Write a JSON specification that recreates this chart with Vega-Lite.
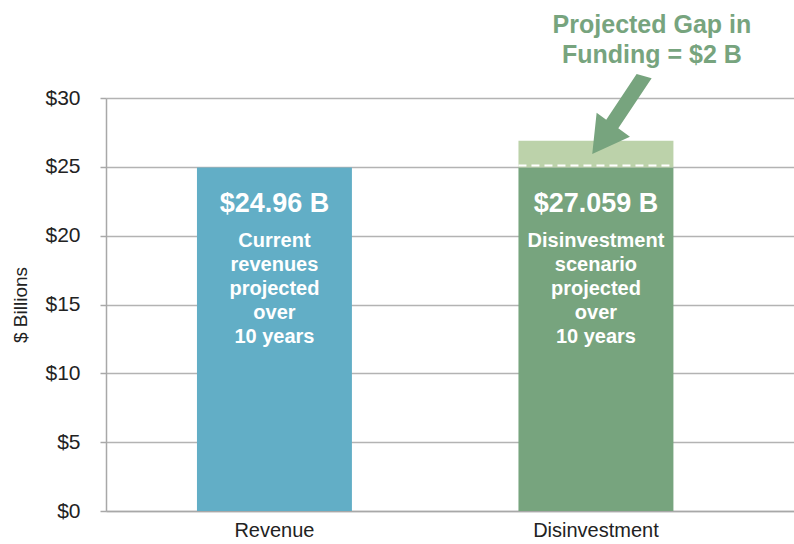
{
  "$schema": "https://vega.github.io/schema/vega-lite/v6.json",
  "width": 688,
  "height": 413,
  "autosize": {"type": "none"},
  "padding": {"left": 106, "top": 98, "right": 0, "bottom": 33},
  "background": "white",
  "config": {"view": {"stroke": null}, "font": "Liberation Sans"},
  "layer": [
    {
      "data": {"values": [
        {"category": "Revenue", "segment": "Revenue", "low": 0, "high": 24.96},
        {"category": "Disinvestment", "segment": "Disinvestment", "low": 0, "high": 24.96},
        {"category": "Disinvestment", "segment": "Gap", "low": 24.96, "high": 26.9}
      ]},
      "mark": {"type": "bar"},
      "encoding": {
        "x": {
          "field": "category", "type": "nominal",
          "scale": {"domain": ["Revenue", "Disinvestment"], "paddingInner": 0.518, "paddingOuter": 0.329, "align": 0.43},
          "axis": {"title": null, "labelAngle": 0, "labelFont": "Liberation Sans", "labelFontSize": 20, "labelColor": "#222222", "ticks": false, "domainColor": "#a8a8a8", "domainWidth": 1.5, "labelPadding": 9}
        },
        "y": {
          "field": "high", "type": "quantitative",
          "scale": {"domain": [0, 30], "nice": false},
          "axis": {
            "values": [0, 5, 10, 15, 20, 25, 30],
            "labelExpr": "'$' + datum.value",
            "labelFont": "Liberation Sans", "labelFontSize": 21, "labelColor": "#222222",
            "labelPadding": 20, "tickSize": 6, "tickColor": "#a8a8a8", "tickWidth": 1.5,
            "domainColor": "#a8a8a8", "domainWidth": 1.5,
            "grid": true, "gridColor": "#b3b3b3", "gridWidth": 1.5,
            "title": "$ Billions", "titleFont": "Liberation Sans", "titleFontSize": 19, "titleFontWeight": "normal", "titleColor": "#222222", "titlePadding": 14
          }
        },
        "y2": {"field": "low"},
        "color": {
          "field": "segment", "type": "nominal",
          "scale": {"domain": ["Revenue", "Disinvestment", "Gap"], "range": ["#62aec6", "#77a47e", "#bcd2aa"]},
          "legend": null
        }
      }
    },
    {
      "data": {"values": [{"category": "Disinvestment", "level": 25.1}]},
      "mark": {"type": "rule", "color": "white", "strokeWidth": 2, "strokeDash": [8, 5]},
      "encoding": {
        "x": {"field": "category", "type": "nominal", "bandPosition": 0},
        "x2": {"field": "category", "bandPosition": 1},
        "y": {"field": "level", "type": "quantitative"}
      }
    },
    {
      "data": {"values": [
        {"category": "Revenue", "top": 24.96, "amount": "$24.96 B", "desc": "Current\nrevenues\nprojected\nover\n10 years"},
        {"category": "Disinvestment", "top": 24.96, "amount": "$27.059 B", "desc": "Disinvestment\nscenario\nprojected\nover\n10 years"}
      ]},
      "layer": [
        {
          "mark": {"type": "text", "font": "Liberation Sans", "fontSize": 27, "fontWeight": "bold", "color": "white", "align": "center", "baseline": "alphabetic", "dy": 45},
          "encoding": {
            "x": {"field": "category", "type": "nominal"},
            "y": {"field": "top", "type": "quantitative"},
            "text": {"field": "amount"}
          }
        },
        {
          "mark": {"type": "text", "font": "Liberation Sans", "fontSize": 20, "fontWeight": "bold", "color": "white", "align": "center", "baseline": "alphabetic", "dy": 80, "lineBreak": "\n", "lineHeight": 24},
          "encoding": {
            "x": {"field": "category", "type": "nominal"},
            "y": {"field": "top", "type": "quantitative"},
            "text": {"field": "desc"}
          }
        }
      ]
    },
    {
      "data": {"values": [{"note": "Projected Gap in\nFunding = $2 B"}]},
      "mark": {"type": "text", "font": "Liberation Sans", "fontSize": 25, "fontWeight": "bold", "color": "#77a47e", "align": "center", "baseline": "alphabetic", "dx": 56, "lineBreak": "\n", "lineHeight": 30},
      "encoding": {
        "x": {"datum": "Disinvestment", "type": "nominal"},
        "y": {"datum": 34.72, "type": "quantitative"},
        "text": {"field": "note"}
      }
    },
    {
      "data": {"values": [{"note": "arrow"}]},
      "mark": {"type": "point", "shape": "M0.814,-0.82L1.114,-0.734L0.447,0.266L0.68,0.434L-0.074,0.78L0.014,-0.046L0.2056,0.092Z", "size": 10000, "filled": true, "color": "#77a47e", "opacity": 1, "strokeWidth": 0},
      "encoding": {
        "x": {"datum": "Disinvestment", "type": "nominal"},
        "y": {"datum": 28.76, "type": "quantitative"}
      }
    }
  ]
}
